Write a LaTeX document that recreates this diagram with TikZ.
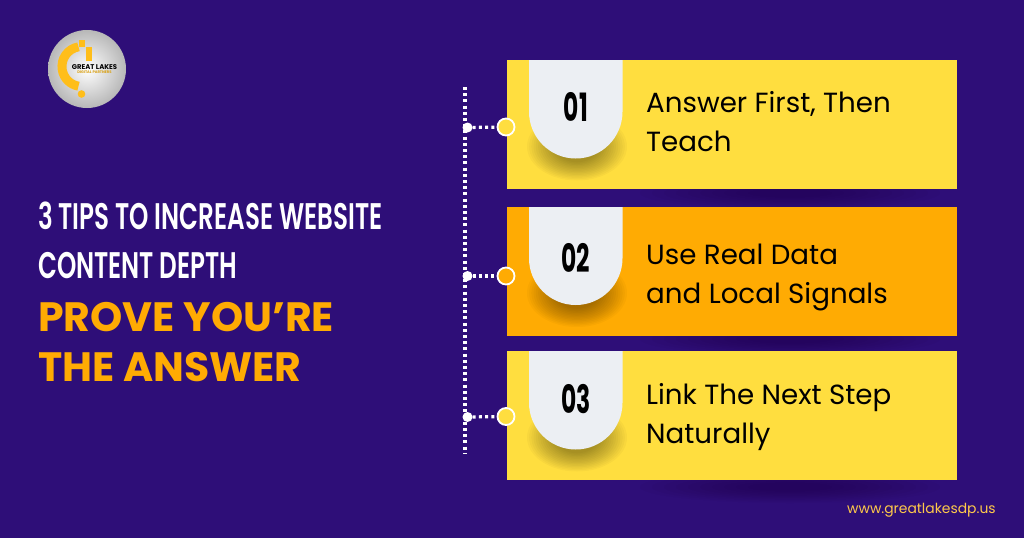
\documentclass[tikz,border=0pt]{standalone}
\usepackage{fontspec}
\setmainfont{Poppins}
\newfontfamily\condfont[FakeStretch=0.665]{Poppins SemiBold}
\newfontfamily\numfont[FakeStretch=0.6]{Poppins Bold}
\usetikzlibrary{calc}
\definecolor{bgpurple}{HTML}{2E0E78}
\definecolor{cardyellow}{HTML}{FFDE3F}
\definecolor{cardorange}{HTML}{FFAB03}
\definecolor{tabgrey}{HTML}{ECEFF3}
\definecolor{headorange}{HTML}{FFAB03}
\definecolor{logogold}{HTML}{FFBE1A}
\definecolor{urlgold}{HTML}{FFC94A}
\tikzset{
  x=1pt,y=-1pt,
  card/.style={minimum width=450pt,minimum height=129pt,inner sep=0pt,draw=none,anchor=north west},
  cardtext/.style={anchor=base west,inner sep=0pt,font=\fontsize{27.7}{30}\selectfont,text=black},
  numtext/.style={anchor=center,inner sep=0pt,font=\fontsize{39}{40}\numfont,text=black},
  headwhite/.style={anchor=base west,inner sep=0pt,font=\fontsize{37}{40}\condfont,text=white},
  headgold/.style={anchor=base west,inner sep=0pt,font=\fontsize{41}{44}\bfseries\selectfont,text=headorange},
  ring/.style={circle,minimum size=17pt,inner sep=0pt,draw=white,line width=1.8pt,fill=cardyellow},
  jdot/.style={circle,minimum size=10pt,inner sep=0pt,fill=white},
  dotline/.style={white,line width=3.2pt,dash pattern=on 3pt off 3.2pt},
}
% card top y=#1, tab bottom y=#2, number #3, node name #4, number centre y=#5
\newcommand{\cardtab}[5]{%
  \begin{scope}
    \clip (507,#1) rectangle (957,#1+129);
    \foreach \k in {0,...,13}{
      \fill[black,opacity=0.028] (577,#2-12) ellipse ({50-2.2*\k} and {34-1.4*\k});
    }
  \end{scope}
  \fill[tabgrey] (529,#1) -- (622.5,#1) -- (622.5,#2-46.75) arc[start angle=0,end angle=180,radius=46.75] -- cycle;
  \node[numtext] (#4) at (576,#5) {#3};
}
\newcommand{\softdark}[2]{%
  \foreach \k in {0,...,9}{
    \fill[black,opacity=0.02] (#1,#2) ellipse ({150-12*\k} and {16-1.3*\k});
  }
}
\begin{document}
\begin{tikzpicture}
\useasboundingbox (0,0) rectangle (1024,538);
\fill[bgpurple] (0,0) rectangle (1024,538);

% logo
\shade[inner color=white,outer color=black!28] (87,69) circle (39);
\draw[logogold,line width=9pt] (78.5,46.8) arc[start angle=-100,end angle=-260,radius=20];
\fill[logogold] (78.5,40) rectangle (85,46.5);
\fill[logogold] (85.5,47) rectangle (92,61);
\fill[logogold] (81.5,94) circle (3.8);
\node[anchor=center,inner sep=0pt,font=\fontsize{6.9}{7}\bfseries\selectfont,text=black] (logotext) at (94.5,67) {GREAT LAKES};
\node[anchor=center,inner sep=0pt,font=\fontsize{3.7}{4}\bfseries\selectfont,text=logogold!85!black] (logosub) at (94.5,72) {DIGITAL PARTNERS};

% soft shadows on the background
\softdark{790}{193}
\softdark{790}{339}
\softdark{790}{487}

% dotted spine
\coordinate (spinetop) at (465,87);
\coordinate (spinebottom) at (465,453);
\draw[dotline] (spinetop) -- (spinebottom);

% cards
\node[card,fill=cardyellow] (card1) at (507,60) {};
\node[card,fill=cardorange] (card2) at (507,207) {};
\node[card,fill=cardyellow] (card3) at (507,351) {};

\cardtab{60}{158.5}{01}{num1}{107}
\cardtab{207}{305}{02}{num2}{258}
\cardtab{351}{449.5}{03}{num3}{399}

% junctions
\node[jdot] (j1) at (467.5,127.5) {};
\node[jdot] (j2) at (467.5,276) {};
\node[jdot] (j3) at (467.5,417) {};
\node[ring] (r1) at (506,127) {};
\node[ring,fill=cardorange] (r2) at (506,276) {};
\node[ring] (r3) at (506,416.5) {};
\draw[dotline] (j1) -- (r1);
\draw[dotline] (j2) -- (r2);
\draw[dotline] (j3) -- (r3);

% card texts
\node[cardtext] (t1a) at (646,112) {Answer First, Then};
\node[cardtext] (t1b) at (646,151) {Teach};
\node[cardtext] (t2a) at (646,264) {Use Real Data};
\node[cardtext] (t2b) at (646,303) {and Local Signals};
\node[cardtext] (t3a) at (646,404) {Link The Next Step};
\node[cardtext] (t3b) at (646,443) {Naturally};

% headline
\node[headwhite] (h1) at (38,229) {3 TIPS TO INCREASE WEBSITE};
\node[headwhite] (h2) at (38,278) {CONTENT DEPTH};
\node[headgold] (h3) at (38,331) {PROVE YOU’RE};
\node[headgold] (h4) at (38,381) {THE ANSWER};

% url
\node[anchor=base west,inner sep=0pt,font=\fontsize{13.9}{15}\selectfont,text=urlgold] (url) at (847,513) {www.greatlakesdp.us};
\end{tikzpicture}
\end{document}
